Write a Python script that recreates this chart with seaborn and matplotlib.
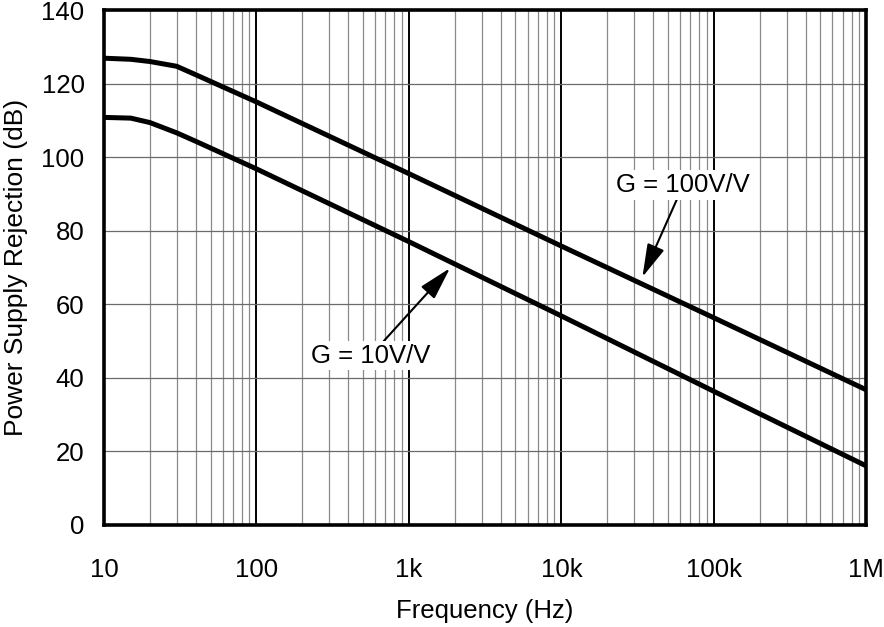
import numpy as np
import pandas as pd
import matplotlib
matplotlib.use("Agg")
import matplotlib.pyplot as plt
from matplotlib.ticker import FixedLocator, LogLocator, NullFormatter
import seaborn as sns

# Data
freq_hz = [10, 15, 20, 30, 40, 100, 1e3, 1e4, 1e5, 1e6]
psrr_g100 = [126.9, 126.6, 126.0, 124.7, 122.4, 115.0, 95.5, 75.8, 56.3, 36.7]
psrr_g10 = [110.8, 110.6, 109.4, 106.6, 104.3, 96.8, 77.0, 56.8, 36.3, 16.0]
series_names = ["G = 100V/V", "G = 10V/V"]

x_ticks = [10, 100, 1e3, 1e4, 1e5, 1e6]
x_tick_labels = ["10", "100", "1k", "10k", "100k", "1M"]
y_ticks = [0, 20, 40, 60, 80, 100, 120, 140]

df = pd.DataFrame({
    "freq": freq_hz * 2,
    "psrr": psrr_g100 + psrr_g10,
    "gain": [series_names[0]] * len(freq_hz) + [series_names[1]] * len(freq_hz),
})

sns.set_style("white")
plt.rcParams["font.family"] = ["Liberation Sans", "DejaVu Sans"]
plt.rcParams["text.color"] = "black"
plt.rcParams["axes.labelcolor"] = "black"

fig = plt.figure(figsize=(8.84, 6.27), dpi=100)
ax = fig.add_axes([0.1176, 0.163, 0.8624, 0.821])

# grid first, so the curves sit on top
ax.set_xscale("log")
ax.set_xlim(10, 1e6)
ax.set_ylim(0, 140)
ax.xaxis.set_major_locator(FixedLocator(x_ticks))
ax.set_xticklabels(x_tick_labels)
ax.xaxis.set_minor_locator(LogLocator(base=10, subs=np.arange(2, 10)))
ax.xaxis.set_minor_formatter(NullFormatter())
ax.set_yticks(y_ticks)
ax.grid(True, which="major", axis="x", color="black", lw=1.4, zorder=0)
ax.grid(True, which="minor", axis="x", color="#8a8a8a", lw=0.9, zorder=0)
ax.grid(True, which="major", axis="y", color="#6a6a6a", lw=0.9, zorder=0)
ax.set_axisbelow(True)

sns.lineplot(data=df, x="freq", y="psrr", hue="gain",
             palette=["black", "black"], lw=3.6, legend=False, ax=ax)

for s in ax.spines.values():
    s.set_visible(True)
    s.set_color("black")
    s.set_linewidth(2.6)

ax.tick_params(axis="both", which="both", length=0, labelsize=18.5, colors="black")
ax.tick_params(axis="x", pad=24)
ax.tick_params(axis="y", pad=14)
ax.set_xlabel("Frequency (Hz)", fontsize=18.5, labelpad=12)
ax.set_ylabel("Power Supply Rejection (dB)", fontsize=19, labelpad=10)

# labels with white boxes and narrow arrow heads
box = dict(boxstyle="square,pad=0.1", fc="white", ec="none")
arrow = dict(arrowstyle="-|>,head_length=1.1,head_width=0.3", color="black",
             lw=1.5, shrinkA=0, shrinkB=0)
ax.annotate(series_names[0], xy=(3.4e4, 67.4), xytext=(6.3e4, 92.4),
            fontsize=18.5, ha="center", va="center", bbox=box,
            arrowprops=arrow)
ax.annotate(series_names[1], xy=(1860, 69.8), xytext=(560, 46),
            fontsize=18.5, ha="center", va="center", bbox=box,
            arrowprops=arrow)

fig.savefig("out.png", dpi=100)
